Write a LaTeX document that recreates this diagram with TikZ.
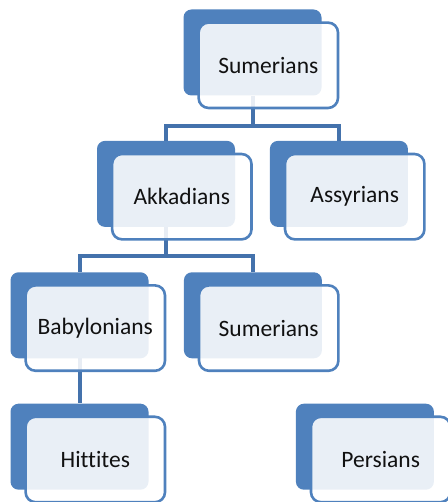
\documentclass[tikz,border=0pt]{standalone}
\usepackage{fontspec}
\setmainfont{Carlito}[Ligatures=NoCommon]
\usetikzlibrary{positioning}

\definecolor{boxblue}{HTML}{4F81BD}
\definecolor{linkblue}{HTML}{4472AC}
\definecolor{textgray}{HTML}{111111}

\begin{document}
\begin{tikzpicture}[
        x=1pt, y=1pt,
        node distance=45pt and 35pt,
        back/.style={fill=boxblue, rounded corners=8pt, minimum width=138pt, minimum height=86pt, inner sep=0pt},
        front/.style={draw=boxblue, line width=2.6pt, fill=white, fill opacity=0.88, text opacity=1, rounded corners=10pt, minimum width=139.4pt, minimum height=85.4pt, inner sep=0pt, anchor=north west, text=textgray, font=\fontsize{23.5}{27}\selectfont},
        link/.style={draw=linkblue, line width=4pt}
    ]
        \useasboundingbox (0,0) rectangle (447,502);

        % back plates
        \node[back] (top) at (252.5,449.5) {};
        \node[back, below=of top, xshift=-86.5pt] (akk) {};
        \node[back, right=34.5pt of akk] (ass) {};
        \node[back, below=of akk, xshift=-86.5pt] (bab) {};
        \node[back, right=of bab] (sum) {};
        \node[back, below=of bab] (hit) {};
        \node[back, right=147pt of hit] (per) {};

        % connectors
        \coordinate (bar1) at ([yshift=-30pt]top.south);
        \coordinate (bar2) at ([yshift=-29pt]akk.south);
        \draw[link] (top.south) -- (bar1) -| (akk.north);
        \draw[link] (bar1) -| (ass.north);
        \draw[link] (akk.south) -- (bar2) -| (bab.north);
        \draw[link] (bar2) -| (sum.north);
        \draw[link] (bab.south) -- (hit.north);

        % front cards
        \node[front] (topf) at ([shift={(14pt,-12pt)}]top.north west) {Sumerians};
        \node[front] (akkf) at ([shift={(14pt,-12pt)}]akk.north west) {Akkadians};
        \node[front] (assf) at ([shift={(14pt,-12pt)}]ass.north west) {Assyrians};
        \node[front] (babf) at ([shift={(14pt,-12pt)}]bab.north west) {Babylonians};
        \node[front] (sumf) at ([shift={(14pt,-12pt)}]sum.north west) {Sumerians};
        \node[front] (hitf) at ([shift={(14pt,-12pt)}]hit.north west) {Hittites};
        \node[front] (perf) at ([shift={(14pt,-12pt)}]per.north west) {Persians};

    \end{tikzpicture}
\end{document}
